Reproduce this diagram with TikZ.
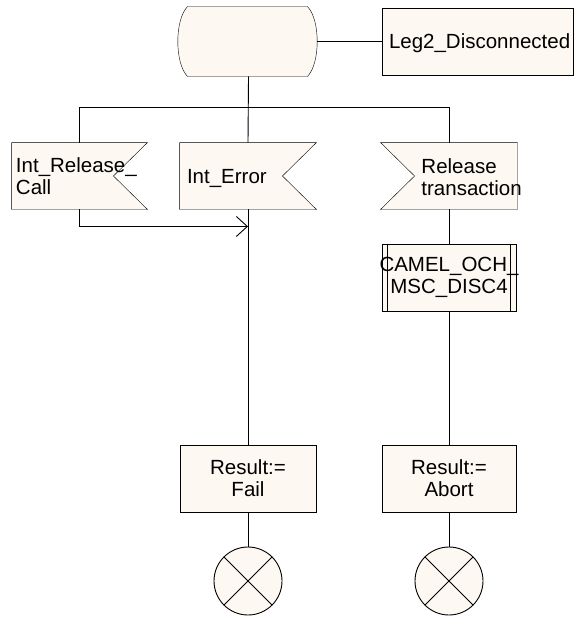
\documentclass[tikz,border=0pt]{standalone}
\usepackage{fontspec}
\setmainfont{Liberation Sans}
\usetikzlibrary{arrows.meta,calc,backgrounds}
\definecolor{sdlfill}{RGB}{253,248,241}
\begin{document}
\begin{tikzpicture}[x=1pt,y=-1pt, line width=0.9pt,
  every node/.style={font=\fontsize{20.5}{22}\selectfont, inner sep=0pt},
  box/.style={rectangle, draw, fill=sdlfill, minimum height=67pt, align=center},
  hidden/.style={rectangle, draw=none, fill=none, minimum height=66pt},
  shapefill/.style={draw, fill=sdlfill},
  endc/.style={circle, draw, fill=sdlfill, minimum size=68pt},
  flow/.style={draw},
  arr/.style={-{Straight Barb[length=11pt,width=20pt]}}]
\useasboundingbox (0,0) rectangle (574,618);

% nodes
\node[hidden, minimum width=137pt, minimum height=69pt] (st) at (248.5,41.5) {};
\node[box, minimum width=191pt, inner xsep=7pt, text width=177pt, align=left, text depth=0pt] (leg) at (477.5,41.5) {Leg2\_Disconnected};

\node[hidden, minimum width=135pt, inner xsep=4pt, text width=127pt, align=left] (irc) at (79.5,176) {Int\_Release\_\\Call};
\node[hidden, minimum width=136pt, inner xsep=7pt, text width=122pt, align=left, text depth=0pt] (ie) at (248,176) {Int\_Error};
\node[hidden, minimum width=136pt] (rt) at (449,176) {};
\node[anchor=west, align=left] (rtl) at (421,177) {Release\\transaction};

\node[box, text width=134pt] (cm) at (449,277.5) {\makebox[134pt]{CAMEL\_OCH\_}\\MSC\_DISC4};

\node[box, minimum width=136pt] (rf) at (248,478.5) {Result:=\\Fail};
\node[box, minimum width=134pt] (ra) at (449,478.5) {Result:=\\Abort};

\node[endc] (ef) at (248,581) {};
\node[endc] (ea) at (449,581) {};

% outlines of the special shapes
\begin{scope}[on background layer]
  \path[shapefill] ($(st.north west)+(8,0)$) -- ($(st.north east)+(-10,0)$)
     .. controls ($(st.north east)+(3,13)$) and ($(st.south east)+(3,-13)$) .. ($(st.south east)+(-10,0)$)
     -- ($(st.south west)+(8,0)$)
     .. controls ($(st.south west)+(-5,-13)$) and ($(st.north west)+(-5,13)$) .. cycle;
  \path[shapefill] (irc.north west) -- (irc.north east) -- ($(irc.east)+(-34,0)$)
     -- (irc.south east) -- (irc.south west) -- cycle;
  \path[shapefill] (ie.north west) -- (ie.north east) -- ($(ie.east)+(-34,0)$)
     -- (ie.south east) -- (ie.south west) -- cycle;
  \path[shapefill] (rt.north west) -- (rt.north east) -- (rt.south east)
     -- (rt.south west) -- ($(rt.west)+(34,0)$) -- cycle;
\end{scope}

% procedure call side bars
\draw ($(cm.north west)+(6,0)$) -- ($(cm.south west)+(6,0)$);
\draw ($(cm.north east)+(-6,0)$) -- ($(cm.south east)+(-6,0)$);

% stop symbols
\draw (ef.north west) -- (ef.south east) (ef.north east) -- (ef.south west);
\draw (ea.north west) -- (ea.south east) (ea.north east) -- (ea.south west);

% connectors
\draw[flow] (st.east) -- (leg.west);
\draw[flow] (st.south) -- (ie.north);
\draw[flow] (irc.north) -- ++(0,-35) -| (rt.north);
\draw[flow, arr] (irc.south) |- ($(ie.south)+(0,17)$);
\draw[flow] (ie.south) -- (rf.north);
\draw[flow] (rt.south) -- (cm.north);
\draw[flow] (cm.south) -- (ra.north);
\draw[flow] (rf.south) -- (ef.north);
\draw[flow] (ra.south) -- (ea.north);
\end{tikzpicture}
\end{document}
